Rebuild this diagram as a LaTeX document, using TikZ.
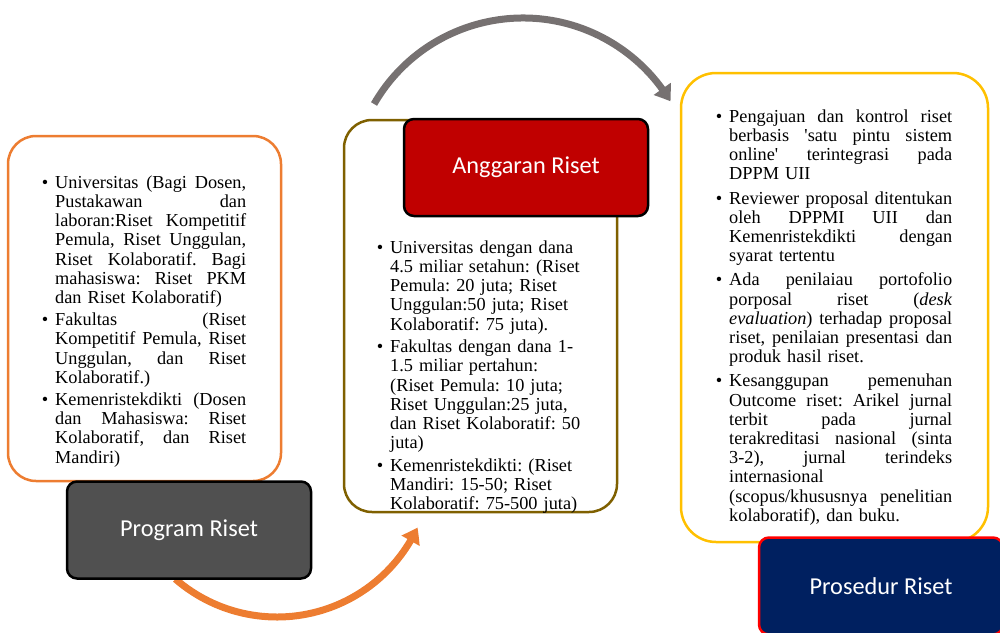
\documentclass[tikz,border=0pt]{standalone}
\usepackage{fontspec}
\setmainfont{Liberation Serif}
\newfontfamily\headfont{Carlito}
\usetikzlibrary{arrows.meta,bending}
\definecolor{orng}{HTML}{ED7D31}
\definecolor{grayarr}{HTML}{767171}
\definecolor{brn}{HTML}{7F6000}
\definecolor{ylw}{HTML}{FFC000}
\definecolor{dgray}{HTML}{505050}
\definecolor{dred}{HTML}{C00000}
\definecolor{navyb}{HTML}{002060}
\newcommand\J[2]{\leavevmode\hbox to #1{\spaceskip=\fontdimen2\font plus 1fil\relax\xspaceskip=\spaceskip #2}}
\newcommand\bul{\leavevmode\llap{\textbullet\hspace{7pt}}}
\newcommand\sq{{\XeTeXglyph\XeTeXglyphindex "quotesingle"\relax}}
\tikzset{
  panel/.style={draw, line width=2.5pt, fill=white, inner sep=0pt},
  header/.style={draw=black, line width=2.5pt, rounded corners=10pt, inner sep=0pt,
    minimum width=244pt, minimum height=97pt, text=white, font=\headfont\fontsize{24.3}{28}\selectfont},
  bodytext/.style={inner sep=0pt, align=left, anchor=north west,
    font=\fontsize{18.3}{19.2}\selectfont\frenchspacing},
  flowarrow/.style={line width=7pt, -{Triangle[width=20pt,length=15pt,bend]}}
}
\begin{document}
\begin{tikzpicture}[x=1pt,y=-1pt]
\useasboundingbox (0,0) rectangle (1000,632);
% panels
\node[panel, draw=orng, rounded corners=28pt, minimum width=273pt, minimum height=345pt] (p1) at (144.5,308.5) {};
\node[panel, draw=brn, rounded corners=28pt, minimum width=273pt, minimum height=392pt] (p2) at (480.5,316) {};
\node[panel, draw=ylw, rounded corners=35pt, minimum width=307pt, minimum height=469pt] (p3) at (834.5,307.5) {};
% arrows
\coordinate (oc) at (277,462);
\coordinate (os) at ([shift={(131:155)}]oc);
\draw[flowarrow, draw=orng] (os) arc (131:25:155);
\coordinate (gc) at (523,190);
\coordinate (gs) at ([shift={(-150:172)}]gc);
\draw[flowarrow, draw=grayarr] (gs) arc (-150:-31:172);
% headers
\node[header, fill=dgray] (h1) at (189,530) {Program Riset};
\node[header, fill=dred] (h2) at (526,167.5) {Anggaran Riset};
\node[header, fill=navyb, draw=red] (h3) at (881,586) {Prosedur Riset};
% texts
\node[bodytext, text width=191pt] (t1) at (55,174) {%
\rule{0pt}{14pt}\bul\J{191pt}{Universitas (Bagi Dosen,}\\
\J{191pt}{Pustakawan dan}\\
\J{191pt}{laboran:Riset Kompetitif}\\
\J{191pt}{Pemula, Riset Unggulan,}\\
\J{191pt}{Riset Kolaboratif. Bagi}\\
\J{191pt}{mahasiswa: Riset PKM}\\
dan Riset Kolaboratif)\\[3pt]
\bul\J{191pt}{Fakultas (Riset}\\
\J{191pt}{Kompetitif Pemula, Riset}\\
\J{191pt}{Unggulan, dan Riset}\\
Kolaboratif.)\\[3pt]
\bul\J{191pt}{Kemenristekdikti (Dosen}\\
\J{191pt}{dan Mahasiswa: Riset}\\
\J{191pt}{Kolaboratif, dan Riset}\\
Mandiri)};
\node[bodytext, text width=205pt] (t2) at (390,239) {%
\rule{0pt}{14pt}\bul Universitas dengan dana\\
4.5 miliar setahun: (Riset\\
Pemula: 20 juta; Riset\\
Unggulan:50 juta; Riset\\
Kolaboratif: 75 juta).\\[3.5pt]
\bul Fakultas dengan dana 1-\\
1.5 miliar pertahun:\\
(Riset Pemula: 10 juta;\\
Riset Unggulan:25 juta,\\
dan Riset Kolaboratif: 50\\
juta)\\[3.5pt]
\bul Kemenristekdikti: (Riset\\
Mandiri: 15-50; Riset\\
Kolaboratif: 75-500 juta)};
\node[bodytext, text width=223pt] (t3) at (729,108) {%
\rule{0pt}{14pt}\bul\J{223pt}{Pengajuan dan kontrol riset}\\
\J{223pt}{berbasis \sq satu pintu sistem}\\
\J{223pt}{online\sq\ terintegrasi pada}\\
DPPM UII\\[5pt]
\bul\J{223pt}{Reviewer proposal ditentukan}\\
\J{223pt}{oleh DPPMI UII dan}\\
\J{223pt}{Kemenristekdikti dengan}\\
syarat tertentu\\[5pt]
\bul\J{223pt}{Ada penilaiau portofolio}\\
\J{223pt}{porposal riset (\textit{desk}}\\
\J{223pt}{\textit{evaluation}) terhadap proposal}\\
\J{223pt}{riset, penilaian presentasi dan}\\
produk hasil riset.\\[5pt]
\bul\J{223pt}{Kesanggupan pemenuhan}\\
\J{223pt}{Outcome riset: Arikel jurnal}\\
\J{223pt}{terbit pada jurnal}\\
\J{223pt}{terakreditasi nasional (sinta}\\
\J{223pt}{3-2), jurnal terindeks}\\
internasional\\
\J{223pt}{(scopus/khususnya penelitian}\\
kolaboratif), dan buku.};
\end{tikzpicture}
\end{document}
